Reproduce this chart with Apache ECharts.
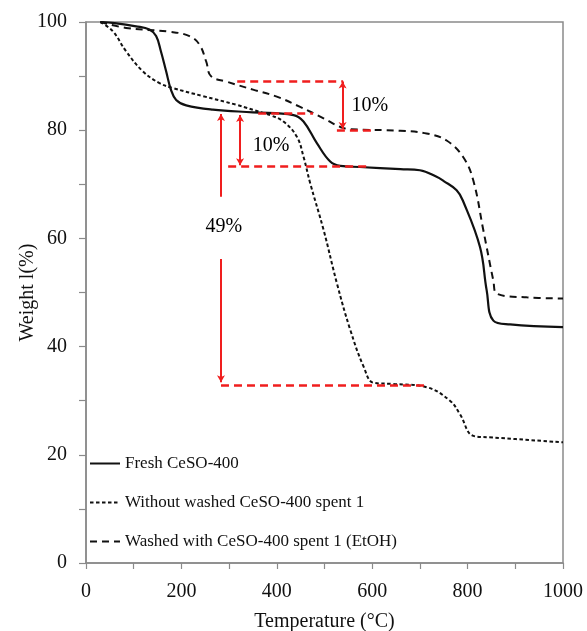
<!DOCTYPE html>
<html>
<head>
<meta charset="utf-8">
<script src="https://cdn.jsdelivr.net/npm/echarts@6/dist/echarts.min.js"></script>
<style>
  html, body { margin: 0; padding: 0; background: #fff; }
  #chart { width: 587px; height: 631px; }
</style>
</head>
<body>
<div id="chart"></div>
<script>
// TGA curves: [temperature (°C), weight (%)]
const freshCeSO = [
  [30, 100], [60, 99.8], [105, 99.2], [133, 98.6], [147, 97.4], [157, 94.6],
  [168, 90.9], [178, 87.5], [189, 85.6], [210, 84.6], [266, 83.8], [350, 83.3],
  [435, 82.8], [456, 81.6], [484, 77.6], [512, 74.2], [533, 73.4], [574, 73.2],
  [659, 72.8], [700, 72.6], [735, 71.4], [750, 70.6], [777, 68.9], [790, 67],
  [826, 58.4], [840, 50.4], [854, 44.8], [889, 44.1], [1000, 43.6]
];
const withoutWashed = [
  [30, 100], [56, 98.3], [84, 94.6], [119, 90.9], [154, 88.7], [182, 87.8],
  [245, 86.3], [315, 84.7], [371, 83.2], [386, 82.8], [414, 81.6], [442, 78.8],
  [456, 75.1], [470, 70.2], [498, 61.6], [526, 51.7], [554, 43.1], [582, 36.3],
  [603, 33.3], [644, 33.1], [714, 32.5], [763, 30], [784, 27.5], [812, 23.5],
  [854, 23.2], [1000, 22.3]
];
const washedEtOH = [
  [30, 100], [84, 98.9], [175, 98.2], [217, 97.4], [238, 95.8], [252, 92.7],
  [262, 90], [294, 89], [350, 87.5], [400, 86.2], [449, 84.3], [498, 82.2],
  [533, 80.6], [554, 80.2], [659, 79.9], [714, 79.4], [756, 78.1], [791, 75],
  [812, 70.7], [833, 61.5], [854, 52.2], [861, 49.8], [924, 49.1], [1000, 48.9]
];

const seriesNames = [
  'Fresh CeSO-400',
  'Without washed CeSO-400 spent 1',
  'Washed with CeSO-400 spent 1 (EtOH)'
];

// red dashed guide levels: [x1, y1, x2, y2]
const guideLines = [
  [317, 89, 539, 89],
  [526, 80, 599, 80],
  [361, 83.2, 476, 83.2],
  [298, 73.3, 596, 73.3],
  [283, 32.9, 715, 32.9]
];
// red arrows: [x1, y1, x2, y2, arrowAtStart, arrowAtEnd]
const arrows = [
  [538, 89, 538, 80.2, true, true],
  [323, 82.8, 323, 73.5, true, true],
  [283, 83, 283, 67.7, true, false],
  [283, 56.2, 283, 33.4, false, true]
];
// weight-loss annotations: [text, x, y]
const lossLabels = [
  ['10%', 595, 84.6],
  ['10%', 388, 77.2],
  ['49%', 289, 62.1]
];

const xTicks = [0, 200, 400, 600, 800, 1000];
const yTicks = [0, 20, 40, 60, 80, 100];

const serif = '"Liberation Serif", "DejaVu Serif", serif';
const red = '#f01e1e';
const axisGray = '#8a8a8a';

const markData = [];
guideLines.forEach(g => {
  markData.push([
    { coord: [g[0], g[1]], symbol: 'none' },
    { coord: [g[2], g[3]], symbol: 'none',
      lineStyle: { color: red, width: 2.6, type: [8, 5] } }
  ]);
});
arrows.forEach(a => {
  markData.push([
    { coord: [a[0], a[1]], symbol: a[4] ? 'arrow' : 'none' },
    { coord: [a[2], a[3]], symbol: a[5] ? 'arrow' : 'none',
      lineStyle: { color: red, width: 2, type: 'solid' } }
  ]);
});

const chart = echarts.init(document.getElementById('chart'), null, { renderer: 'canvas' });

chart.setOption({
  animation: false,
  backgroundColor: '#fff',
  grid: {
    left: 86, right: 24, top: 22, bottom: 68,
    outerBoundsMode: 'none',
    containLabel: false,
    show: true, borderColor: axisGray, borderWidth: 1.5, backgroundColor: 'transparent'
  },
  legend: {
    orient: 'vertical',
    left: 84,
    top: 450,
    itemWidth: 30,
    itemHeight: 14,
    itemGap: 22,
    data: seriesNames,
    itemStyle: { opacity: 0 },
    textStyle: { fontFamily: serif, fontSize: 17, color: '#111' }
  },
  xAxis: {
    type: 'value',
    min: 0, max: 1000, interval: 100,
    name: 'Temperature (°C)',
    nameLocation: 'middle',
    nameGap: 49,
    nameMoveOverlap: false,
    nameTextStyle: { fontFamily: serif, fontSize: 20, color: '#111' },
    axisLine: { show: true, lineStyle: { color: axisGray, width: 1.5 } },
    axisTick: { show: true, length: 6, lineStyle: { color: axisGray, width: 1.2 } },
    axisLabel: {
      fontFamily: serif, fontSize: 20, color: '#111', margin: 19,
      formatter: v => xTicks.includes(v) ? String(v) : ''
    },
    splitLine: { show: false }
  },
  yAxis: {
    type: 'value',
    min: 0, max: 100, interval: 10,
    name: 'Weight l(%)',
    nameLocation: 'middle',
    nameGap: 48,
    nameMoveOverlap: false,
    nameTextStyle: { fontFamily: serif, fontSize: 20, color: '#111' },
    axisLine: { show: true, lineStyle: { color: axisGray, width: 1.5 } },
    axisTick: { show: true, length: 7, lineStyle: { color: axisGray, width: 1.2 } },
    axisLabel: {
      fontFamily: serif, fontSize: 20, color: '#111', margin: 19,
      formatter: v => yTicks.includes(v) ? String(v) : ''
    },
    splitLine: { show: false }
  },
  series: [
    {
      name: seriesNames[0], type: 'line', data: freshCeSO,
      symbol: 'none', smooth: 0.4,
      lineStyle: { color: '#111', width: 2.2, type: 'solid' },
      itemStyle: { color: '#111' }, z: 3
    },
    {
      name: seriesNames[1], type: 'line', data: withoutWashed,
      symbol: 'none', smooth: 0.4,
      lineStyle: { color: '#111', width: 2, type: [3.5, 2.5] },
      itemStyle: { color: '#111' }, z: 3
    },
    {
      name: seriesNames[2], type: 'line', data: washedEtOH,
      symbol: 'none', smooth: 0.4,
      lineStyle: { color: '#111', width: 2, type: [7, 5] },
      itemStyle: { color: '#111' }, z: 3
    },
    {
      name: 'annotations', type: 'line', data: [],
      silent: true, z: 4,
      markLine: {
        silent: true,
        symbolSize: [6, 7],
        label: { show: false },
        lineStyle: { color: red, width: 2 },
        emphasis: { disabled: true },
        data: markData
      }
    },
    {
      name: 'lossLabels', type: 'scatter',
      data: lossLabels.map(l => ({ name: l[0], value: [l[1], l[2]] })),
      symbol: 'circle', symbolSize: 1,
      itemStyle: { color: 'transparent', opacity: 1 },
      silent: true, z: 5,
      label: {
        show: true, position: 'inside', formatter: '{b}',
        fontFamily: serif, fontSize: 20, color: '#000', opacity: 1,
        textBorderWidth: 0
      }
    }
  ]
});
</script>
</body>
</html>
